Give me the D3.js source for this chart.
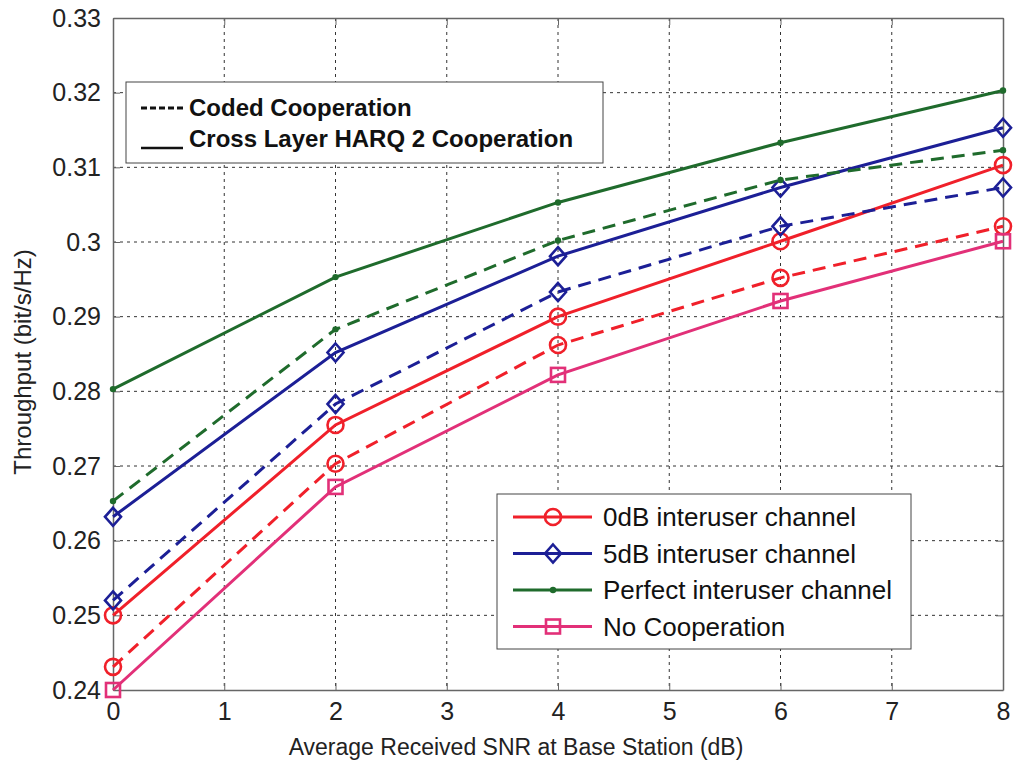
<!DOCTYPE html>
<html>
<head>
<meta charset="utf-8">
<script src="https://cdn.jsdelivr.net/npm/d3@7"></script>
<style>
  body { margin: 0; background: #fff; }
  svg { font-family: Arial, "Liberation Sans", sans-serif; }
</style>
</head>
<body>
<svg width="1018" height="765"></svg>
<script>
// values
var snr = [0, 2, 4, 6, 8];
var xTicks = [0, 1, 2, 3, 4, 5, 6, 7, 8];
var yTicks = [0.24, 0.25, 0.26, 0.27, 0.28, 0.29, 0.30, 0.31, 0.32, 0.33];

var perfectHarq = [0.2803, 0.2953, 0.3053, 0.3133, 0.3203];
var perfectCoded = [0.2653, 0.2883, 0.3002, 0.3083, 0.3123];
var db5Harq = [0.2632, 0.2852, 0.2981, 0.3073, 0.3153];
var db5Coded = [0.2520, 0.2783, 0.2933, 0.3021, 0.3073];
var db0Harq = [0.2500, 0.2755, 0.2900, 0.3001, 0.3103];
var db0Coded = [0.2431, 0.2703, 0.2862, 0.2952, 0.3021];
var noCoop = [0.2400, 0.2672, 0.2822, 0.2921, 0.3001];

var legendNames = ["0dB interuser channel", "5dB interuser channel",
  "Perfect interuser channel", "No Cooperation"];

(function () {
  var left = 113, right = 1003, top = 18, bottom = 690;
  var svg = d3.select("svg");

  var x = d3.scaleLinear().domain([0, 8]).range([left, right]);
  var y = d3.scaleLinear().domain([0.24, 0.33]).range([bottom, top]);

  var red = "#f0202a", blue = "#1c1f96", green = "#1f6b2c", pink = "#e23078";

  // grid
  var grid = svg.append("g")
    .attr("stroke", "#333").attr("stroke-width", 1)
    .attr("stroke-dasharray", "3,4");
  grid.selectAll(".gx").data(xTicks.slice(1, -1)).enter().append("line")
    .attr("x1", function (d) { return x(d); }).attr("x2", function (d) { return x(d); })
    .attr("y1", top).attr("y2", bottom);
  grid.selectAll(".gy").data(yTicks.slice(1, -1)).enter().append("line")
    .attr("y1", function (d) { return y(d); }).attr("y2", function (d) { return y(d); })
    .attr("x1", left).attr("x2", right);

  // axes (ticks inward, box on all sides)
  var fmt = function (d) { return String(+d.toFixed(2)); };
  var axisStyle = function (g) {
    g.select(".domain").attr("stroke", "#666").attr("stroke-width", 1.5);
    g.selectAll(".tick line").attr("stroke", "#666");
    g.selectAll("text").attr("fill", "#222").attr("font-size", 25);
  };
  svg.append("g").attr("transform", "translate(0," + bottom + ")")
    .call(d3.axisBottom(x).tickValues(xTicks).tickSizeInner(-7).tickSizeOuter(0).tickPadding(12))
    .call(axisStyle);
  svg.append("g").attr("transform", "translate(0," + top + ")")
    .call(d3.axisTop(x).tickValues(xTicks).tickSizeInner(-7).tickSizeOuter(0).tickFormat(""))
    .call(axisStyle);
  svg.append("g").attr("transform", "translate(" + left + ",0)")
    .call(d3.axisLeft(y).tickValues(yTicks).tickSizeInner(-7).tickSizeOuter(0).tickPadding(12).tickFormat(fmt))
    .call(axisStyle);
  svg.append("g").attr("transform", "translate(" + right + ",0)")
    .call(d3.axisRight(y).tickValues(yTicks).tickSizeInner(-7).tickSizeOuter(0).tickFormat(""))
    .call(axisStyle);

  svg.append("text").attr("x", 516).attr("y", 755).attr("text-anchor", "middle")
    .attr("font-size", 23).attr("fill", "#222")
    .text("Average Received SNR at Base Station (dB)");
  svg.append("text").attr("transform", "translate(31,362) rotate(-90)")
    .attr("text-anchor", "middle").attr("font-size", 24).attr("fill", "#222")
    .text("Throughput (bit/s/Hz)");

  // series
  var series = [
    { v: db0Coded, c: red, dash: true, m: "circle" },
    { v: db0Harq, c: red, dash: false, m: "circle" },
    { v: db5Coded, c: blue, dash: true, m: "diamond" },
    { v: db5Harq, c: blue, dash: false, m: "diamond" },
    { v: perfectCoded, c: green, dash: true, m: "dot" },
    { v: perfectHarq, c: green, dash: false, m: "dot" },
    { v: noCoop, c: pink, dash: false, m: "square" }
  ];

  var line = d3.line()
    .x(function (d, i) { return x(snr[i]); })
    .y(function (d) { return y(d); });

  var drawMarker = function (g, type, color, cx, cy) {
    if (type === "circle") {
      g.append("circle").attr("cx", cx).attr("cy", cy).attr("r", 8)
        .attr("fill", "none").attr("stroke", color).attr("stroke-width", 2.6);
    } else if (type === "diamond") {
      g.append("path").attr("d", "M" + cx + "," + (cy - 9) + "L" + (cx + 8) + "," + cy +
        "L" + cx + "," + (cy + 9) + "L" + (cx - 8) + "," + cy + "Z")
        .attr("fill", "none").attr("stroke", color).attr("stroke-width", 2.6);
    } else if (type === "square") {
      g.append("rect").attr("x", cx - 7).attr("y", cy - 7).attr("width", 14).attr("height", 14)
        .attr("fill", "none").attr("stroke", color).attr("stroke-width", 2.6);
    } else {
      g.append("circle").attr("cx", cx).attr("cy", cy).attr("r", 3.2).attr("fill", color);
    }
  };

  series.forEach(function (s) {
    var g = svg.append("g");
    g.append("path").datum(s.v).attr("d", line)
      .attr("fill", "none").attr("stroke", s.c).attr("stroke-width", 3)
      .attr("stroke-dasharray", s.dash ? "13,8" : null);
    s.v.forEach(function (d, i) { drawMarker(g, s.m, s.c, x(snr[i]), y(d)); });
  });

  // style legend (top-left)
  var l1 = svg.append("g");
  l1.append("rect").attr("x", 126).attr("y", 82).attr("width", 477).attr("height", 81)
    .attr("fill", "#fff").attr("stroke", "#444").attr("stroke-width", 1);
  l1.append("line").attr("x1", 141).attr("x2", 184).attr("y1", 108).attr("y2", 108)
    .attr("stroke", "#111").attr("stroke-width", 3).attr("stroke-dasharray", "6,3");
  l1.append("line").attr("x1", 141).attr("x2", 183).attr("y1", 148).attr("y2", 148)
    .attr("stroke", "#111").attr("stroke-width", 2.5);
  l1.append("text").attr("x", 189).attr("y", 116).attr("font-size", 24)
    .attr("font-weight", "bold").attr("fill", "#111").text("Coded Cooperation");
  l1.append("text").attr("x", 189).attr("y", 147).attr("font-size", 24)
    .attr("font-weight", "bold").attr("fill", "#111").text("Cross Layer HARQ 2 Cooperation");

  // series legend (bottom-right)
  var l2 = svg.append("g");
  l2.append("rect").attr("x", 497).attr("y", 494).attr("width", 414).attr("height", 155)
    .attr("fill", "#fff").attr("stroke", "#444").attr("stroke-width", 1);
  var legendMarks = [
    { c: red, m: "circle" }, { c: blue, m: "diamond" },
    { c: green, m: "dot" }, { c: pink, m: "square" }
  ];
  legendNames.forEach(function (name, i) {
    var cy = 517 + i * 36.5;
    l2.append("line").attr("x1", 513).attr("x2", 592).attr("y1", cy).attr("y2", cy)
      .attr("stroke", legendMarks[i].c).attr("stroke-width", 3);
    drawMarker(l2, legendMarks[i].m, legendMarks[i].c, 553, cy);
    l2.append("text").attr("x", 603).attr("y", cy + 9).attr("font-size", 26)
      .attr("fill", "#111").text(name);
  });
}());
</script>
</body>
</html>
